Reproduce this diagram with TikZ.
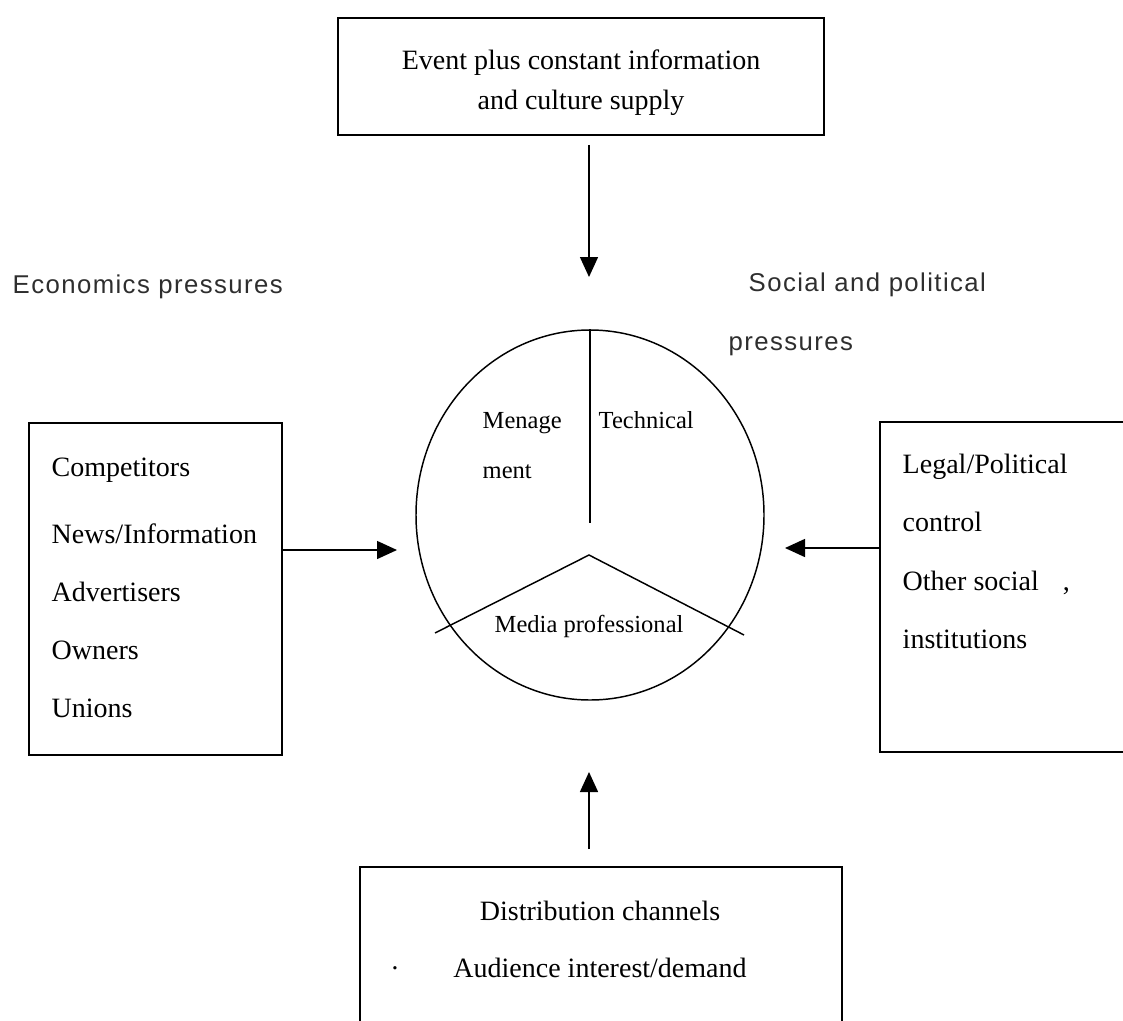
\documentclass[tikz,border=0pt]{standalone}
\usepackage{fontspec}
\setmainfont{Liberation Serif}
\newfontfamily\labelsans[LetterSpace=5.5]{Liberation Sans}
\usetikzlibrary{arrows.meta,shapes.geometric}
\def\u{0.75pt}
\begin{document}
\begin{tikzpicture}[x=0.75pt,y=-0.75pt, line width=1.1pt,
  boxs/.style={draw, rectangle, inner sep=0pt},
  arr/.style={-{Triangle[length=15pt,width=13.5pt]}},
  boxtext/.style={font=\fontsize{21}{25}\selectfont, inner sep=0pt},
  circtext/.style={font=\fontsize{18.4}{22}\selectfont, inner sep=0pt},
  sidelabel/.style={font=\labelsans\fontsize{19.3}{23}\selectfont, text=black!82, inner sep=0pt}]
\useasboundingbox (0,0) rectangle (1123,1020);

% boxes
\node[boxs, minimum width=486*\u, minimum height=117*\u] (topbox) at (581,76.5) {};
\node[boxs, minimum width=253*\u, minimum height=332*\u] (leftbox) at (155.5,589) {};
\node[boxs, minimum width=260*\u, minimum height=330*\u] (rightbox) at (1010,587) {};
\node[boxs, minimum width=482*\u, minimum height=180*\u] (botbox) at (601,957) {};

% hub
\node[draw, ellipse, inner sep=0pt, minimum width=348*\u, minimum height=370*\u] (hub) at (590,515) {};
\coordinate (vend) at (590,523);
\coordinate (hc) at (589,555);
\coordinate (sl) at (435,633);
\coordinate (sr) at (744,635);
\draw (hub.north) -- (vend);
\draw (sl) -- (hc) -- (sr);

% top box text
\node[boxtext, anchor=base] (t1) at (581,70) {Event plus constant information};
\node[boxtext, anchor=base] (t2) at (581,110) {and culture supply};

% side labels
\node[sidelabel, anchor=base west] (econ) at (12,293) {Economics pressures};
\node[sidelabel, anchor=base west] (soc1) at (748,291) {Social and political};
\node[sidelabel, anchor=base west] (soc2) at (728,350) {pressures};

% hub texts
\node[circtext, anchor=base west] (m1) at (482,428) {Menage};
\node[circtext, anchor=base west] (m2) at (482,478) {ment};
\node[circtext, anchor=base west] (tech) at (598,428) {Technical};
\node[circtext, anchor=base west] (media) at (494,632) {Media professional};

% left box texts
\node[boxtext, anchor=base west] (l1) at (51,476) {Competitors};
\node[boxtext, anchor=base west] (l2) at (51,543) {News/Information};
\node[boxtext, anchor=base west] (l3) at (51,601) {Advertisers};
\node[boxtext, anchor=base west] (l4) at (51,659) {Owners};
\node[boxtext, anchor=base west] (l5) at (51,717) {Unions};

% right box texts
\node[boxtext, anchor=base west] (r1) at (902,473) {Legal/Political};
\node[boxtext, anchor=base west] (r2) at (902,531) {control};
\node[boxtext, anchor=base west] (r3) at (902,590) {Other social\hspace{18pt},};
\node[boxtext, anchor=base west] (r4) at (902,648) {institutions};

% bottom box texts
\node[boxtext, anchor=base] (b1) at (600,920) {Distribution channels};
\node[boxtext, anchor=base] (b2) at (600,977) {Audience interest/demand};
\node[boxtext, anchor=base] (bdot) at (395,977) {\textperiodcentered};

% arrows
\coordinate (a1s) at (589,145); \coordinate (a1e) at (589,277);
\coordinate (a2s) at (282,550); \coordinate (a2e) at (397,550);
\coordinate (a3s) at (880,548); \coordinate (a3e) at (785,548);
\coordinate (a4s) at (589,849); \coordinate (a4e) at (589,772);
\draw[arr] (a1s) -- (a1e);
\draw[arr] (a2s) -- (a2e);
\draw[arr] (a3s) -- (a3e);
\draw[arr] (a4s) -- (a4e);
\end{tikzpicture}
\end{document}
